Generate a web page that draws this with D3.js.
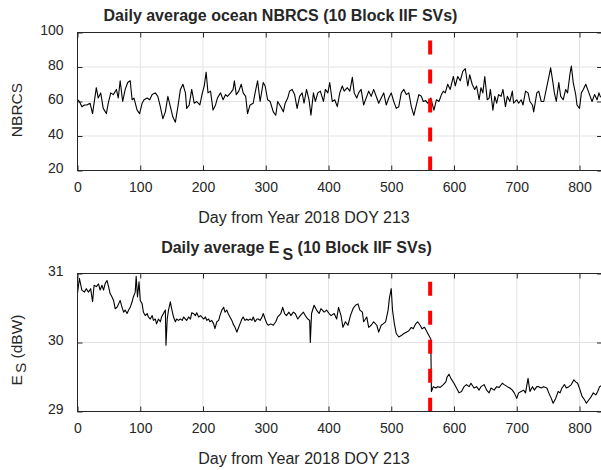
<!DOCTYPE html>
<html>
<head>
<meta charset="utf-8">
<script src="https://cdn.jsdelivr.net/npm/d3@7"></script>
<style>
body { margin: 0; background: #fff; }
svg text { font-family: Arial, "Liberation Sans", Helvetica, sans-serif; fill: #262626; }
.tick text { font-size: 14px; }
</style>
</head>
<body>
<svg id="chart" width="601" height="470"></svg>
<script>
// x axis
var xTicks = [0, 100, 200, 300, 400, 500, 600, 700, 800];
var xMax = 836;
var xLabel = "Day from Year 2018 DOY 213";

// top panel: daily average ocean NBRCS
var nbrcsDay = [0,3,7,11,15,20,24,30,33,37,41,46,49,53,57,62,65,68,72,76,80,84,87,90,95,99,103,106,111,115,119,124,128,132,136,140,144,148,152,156,160,164,168,172,174,178,182,186,190,195,199,202,205,208,212,216,220,223,228,232,236,239,244,248,250,253,257,261,264,268,271,275,280,283,287,291,296,299,303,307,312,316,319,324,328,331,335,338,342,346,350,354,358,361,365,369,372,376,379,383,387,392,395,399,402,406,410,414,418,422,425,430,434,438,441,445,448,452,456,461,464,468,472,477,480,484,488,492,496,500,504,508,512,516,520,524,528,532,536,540,544,548,551,555,558,563,568,572,576,580,583,586,590,594,599,602,606,610,614,618,622,625,629,633,636,640,643,646,649,653,656,658,662,665,668,671,675,678,682,685,689,693,695,700,703,707,710,714,718,721,725,727,732,735,739,743,747,751,754,757,760,763,767,770,774,778,781,785,787,790,794,796,800,803,806,810,813,817,820,824,828,831,833,836];
var nbrcsVal = [61,60,57,58,58,59,53,68,62,65,56,53,59,65,64,67,62,72,60,67,71,72,61,62,55,53,59,61,62,61,64,65,63,57,50,54,63,57,51,48,57,67,70,65,56,58,67,59,60,58,65,69,77,65,66,55,58,62,65,61,64,63,65,67,72,64,66,70,65,63,53,58,59,65,72,60,71,69,61,60,54,52,60,57,54,59,62,66,67,64,56,63,65,59,67,61,52,65,60,65,66,60,67,65,71,60,61,57,65,69,66,68,66,74,65,62,65,67,58,63,66,63,67,62,59,62,65,58,62,65,60,56,57,65,67,64,65,57,52,58,64,63,60,60.5,59,62,55,61,60,64,66,65,70,67,74.5,69,74.5,72,77.5,79,69,75.5,70,67,69,61,68,65,74.5,61,62,67,55,63,59,64,63,67,57,63,60,66,59,61,59,61,58,66,65,60,58,54,65,66,60,60,67,74,79.5,72.5,65,60,71,63,61,67,65,76.5,80.5,71,64,58,56,65,67,70,67,63,60,64,61,65,63,62];
var nbrcsTicks = [20, 40, 60, 80, 100];

// bottom panel: daily average E_S (dBW)
var esDay = [0,3,7,11,14,17.5,21,24,26.5,30,33.5,36,39,41.5,44,47,49.5,52,55,57.5,60,63,65.5,68,71,73.5,76,79,81.5,84,87,89,92,93.5,95.6,98,100,103,105,108,111,113,116,119,121,124,126,129,132,134,137,140,141,143,145,148,150,153,156,158,161,164,167,169,172,174,177,180,182,185,188,190,193,196,198,201,204,206,209,211,214,217,219,222,225,227,230,233,235,238,240,243,246,248,251,254,256,259,262,264,267,270,272,275,278,280,283,286,288,291,294,296,299,302,304,308,312,316,319,324,327,330,333,337,340,344,347,351,355,360,363,367,370,371,373,377,381,385,388,393,397,401,404,409,413,416,420,423,427,431,435,439,443,447,450,454,456,461,464,468,472,477,480,484,487,491,495,497,500,502,505,508,512,516,520,524,528,532,535,539,542,546,549,553,556,560,563,564,567,571,574,578,583,587,589,592,595,600,604,608,612,616,620,624,627,632,636,640,643,648,652,656,659,664,668,672,677,680,685,689,693,696,700,703,707,711,714,718,721,725,728,732,735,739,743,748,751,755,758,762,766,769,772,776,779,783,787,791,794,797,801,804,808,811,815,819,822,826,829,832,836];
var esVal = [30.71,30.93,30.76,30.73,30.78,30.73,30.78,30.59,30.83,30.81,30.85,30.76,30.83,30.76,30.85,30.9,30.81,30.71,30.66,30.61,30.49,30.51,30.56,30.61,30.51,30.44,30.47,30.42,30.47,30.51,30.59,30.66,30.73,30.96,30.66,30.88,30.61,30.56,30.44,30.39,30.42,30.37,30.34,30.39,30.32,30.34,30.27,30.34,30.3,30.37,30.42,30.47,29.96,30.34,30.47,30.59,30.49,30.37,30.3,30.34,30.32,30.34,30.32,30.37,30.34,30.32,30.37,30.34,30.43,30.42,30.39,30.43,30.37,30.39,30.37,30.34,30.37,30.32,30.34,30.3,30.32,30.27,30.2,30.3,30.32,30.39,30.47,30.51,30.44,30.47,30.42,30.37,30.32,30.27,30.22,30.15,30.2,30.27,30.34,30.37,30.32,30.34,30.32,30.34,30.32,30.37,30.3,30.34,30.34,30.32,30.37,30.42,30.34,30.27,30.25,30.27,30.25,30.3,30.37,30.42,30.51,30.42,30.39,30.44,30.39,30.44,30.42,30.34,30.39,30.44,30.39,30.34,30.32,30.0,30.42,30.54,30.47,30.42,30.49,30.44,30.47,30.42,30.39,30.42,30.34,30.51,30.39,30.22,30.3,30.25,30.39,30.49,30.54,30.56,30.47,30.44,30.3,30.37,30.22,30.25,30.3,30.25,30.15,30.25,30.27,30.3,30.47,30.64,30.78,30.47,30.27,30.13,30.08,30.1,30.13,30.15,30.17,30.22,30.2,30.27,30.3,30.25,30.2,30.22,30.17,30.1,30.05,29.29,29.36,29.34,29.36,29.35,29.39,29.43,29.5,29.54,29.48,29.41,29.34,29.27,29.29,29.36,29.39,29.36,29.41,29.34,29.36,29.31,29.36,29.39,29.31,29.27,29.34,29.31,29.36,29.35,29.41,29.39,29.36,29.34,29.31,29.27,29.19,29.27,29.29,29.31,29.27,29.48,29.29,29.36,29.31,29.36,29.36,29.34,29.36,29.34,29.27,29.19,29.12,29.19,29.29,29.27,29.34,29.39,29.34,29.36,29.39,29.46,29.43,29.41,29.31,29.22,29.17,29.12,29.17,29.22,29.27,29.24,29.29,29.36,29.38];
var esTicks = [29, 30, 31];

// red dashed event marker
var eventDay = 562;
var eventNbrcs = [20, 95.4];
var eventEs = [29, 30.88];

var svg = d3.select("#chart");
var axisColor = "#262626";
var x = d3.scaleLinear().domain([0, xMax]).range([77.5, 77.5 + xMax * 502 / 800]);

function drawPanel(cfg) {
	var y = d3.scaleLinear().domain(cfg.yDomain).range([cfg.bottom, cfg.top]);
	var g = svg.append("g").style("color", axisColor);
	var left = x.range()[0], right = x.range()[1];

	// grid
	g.append("g").selectAll("line").data(xTicks).enter().append("line")
		.attr("x1", function(d) { return x(d); }).attr("x2", function(d) { return x(d); })
		.attr("y1", cfg.top).attr("y2", cfg.bottom)
		.attr("stroke", "#e3e3e3").attr("stroke-width", 1);
	g.append("g").selectAll("line").data(cfg.yTicks).enter().append("line")
		.attr("x1", left).attr("x2", right)
		.attr("y1", function(d) { return y(d); }).attr("y2", function(d) { return y(d); })
		.attr("stroke", "#e3e3e3").attr("stroke-width", 1);

	// data line
	var clipId = "clip" + cfg.id;
	svg.append("clipPath").attr("id", clipId).append("rect")
		.attr("x", left).attr("y", cfg.top).attr("width", right - left).attr("height", cfg.bottom - cfg.top);
	var line = d3.line()
		.x(function(d) { return x(d[0]); })
		.y(function(d) { return y(d[1]); });
	g.append("path").datum(d3.zip(cfg.days, cfg.values))
		.attr("clip-path", "url(#" + clipId + ")")
		.attr("fill", "none").attr("stroke", "#000").attr("stroke-width", 1.1)
		.attr("stroke-linejoin", "round")
		.attr("d", line);

	// event marker
	g.append("path").datum([[eventDay, cfg.event[1]], [eventDay, cfg.event[0]]])
		.attr("fill", "none").attr("stroke", "#ff0000").attr("stroke-width", 4)
		.attr("stroke-dasharray", "14,15")
		.attr("d", line);

	// axes, ticks inside
	g.append("g").attr("transform", "translate(0," + cfg.bottom + ")")
		.call(d3.axisBottom(x).tickValues(xTicks).tickSize(-5).tickSizeOuter(0).tickFormat(d3.format("d")))
		.call(function(a) {
			a.attr("font-size", null).attr("font-family", null);
			a.select(".domain").remove();
			a.selectAll("text").attr("y", 21.5).attr("dy", null);
		});
	g.append("g").attr("transform", "translate(0," + cfg.top + ")")
		.call(d3.axisTop(x).tickValues(xTicks).tickSize(-5).tickSizeOuter(0).tickFormat(""))
		.call(function(a) { a.select(".domain").remove(); });
	g.append("g").attr("transform", "translate(" + left + ",0)")
		.call(d3.axisLeft(y).tickValues(cfg.yTicks).tickSize(-5).tickSizeOuter(0).tickFormat(d3.format("d")))
		.call(function(a) {
			a.attr("font-size", null).attr("font-family", null);
			a.select(".domain").remove();
			a.selectAll("text").attr("x", -14).attr("dy", 2);
		});
	g.append("g").attr("transform", "translate(" + right + ",0)")
		.call(d3.axisRight(y).tickValues(cfg.yTicks).tickSize(-5).tickSizeOuter(0).tickFormat(""))
		.call(function(a) { a.select(".domain").remove(); });
	g.append("rect")
		.attr("x", left).attr("y", cfg.top).attr("width", right - left).attr("height", cfg.bottom - cfg.top)
		.attr("fill", "none").attr("stroke", axisColor).attr("stroke-width", 1);

	// x label
	svg.append("text").attr("x", 304).attr("y", cfg.bottom + 52)
		.attr("text-anchor", "middle").style("font-size", "16px")
		.text(xLabel);

	return y;
}

drawPanel({ id: 1, top: 32.5, bottom: 170.5, yDomain: [20, 100], yTicks: nbrcsTicks,
	days: nbrcsDay, values: nbrcsVal, event: eventNbrcs });
drawPanel({ id: 2, top: 273.5, bottom: 411.5, yDomain: [29, 31], yTicks: esTicks,
	days: esDay, values: esVal, event: eventEs });

// titles
svg.append("text").attr("x", 280.5).attr("y", 21)
	.attr("text-anchor", "middle").style("font-size", "16px").style("font-weight", "bold")
	.text("Daily average ocean NBRCS (10 Block IIF SVs)");
var t2 = svg.append("text").attr("x", 296.5).attr("y", 253)
	.attr("text-anchor", "middle").style("font-size", "16px").style("font-weight", "bold");
t2.append("tspan").text("Daily average E");
t2.append("tspan").attr("dx", 3).attr("dy", 7).text("S");
t2.append("tspan").attr("dy", -7).text(" (10 Block IIF SVs)");

// y labels
svg.append("text").attr("transform", "translate(22,110) rotate(-90)")
	.attr("text-anchor", "middle").style("font-size", "15.5px")
	.text("NBRCS");
var yl2 = svg.append("text").attr("transform", "translate(22,350) rotate(-90)")
	.attr("text-anchor", "middle").style("font-size", "15.5px");
yl2.append("tspan").text("E");
yl2.append("tspan").attr("dx", 2).attr("dy", 4).text("S");
yl2.append("tspan").attr("dy", -4).text(" (dBW)");
</script>
</body>
</html>
